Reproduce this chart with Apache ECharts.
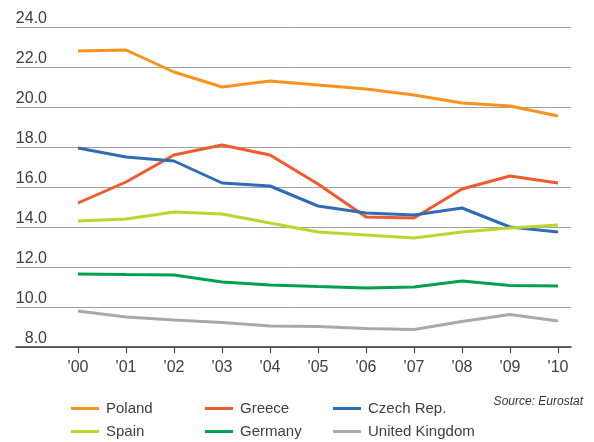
<!DOCTYPE html>
<html>
<head>
<meta charset="utf-8">
<script src="https://cdn.jsdelivr.net/npm/echarts@6/dist/echarts.min.js"></script>
<style>
  html, body { margin: 0; padding: 0; background: #ffffff; }
  #chart { width: 594px; height: 442px; }
</style>
</head>
<body>
<div id="chart"></div>
<script>
// Years on the horizontal axis
const years = ["'00", "'01", "'02", "'03", "'04", "'05", "'06", "'07", "'08", "'09", "'10"];

// Values per country, 2000–2010
const poland  = [22.8, 22.85, 21.75, 21.0, 21.3, 21.1, 20.9, 20.6, 20.2, 20.05, 19.55];
const greece  = [15.2, 16.25, 17.6, 18.1, 17.6, 16.15, 14.5, 14.45, 15.9, 16.55, 16.2];
const czech   = [17.95, 17.5, 17.3, 16.2, 16.05, 15.05, 14.7, 14.6, 14.95, 14.0, 13.75];
const spain   = [14.3, 14.4, 14.75, 14.65, 14.2, 13.75, 13.6, 13.45, 13.75, 13.95, 14.1];
const germany = [11.65, 11.62, 11.6, 11.25, 11.1, 11.02, 10.95, 11.0, 11.3, 11.08, 11.05];
const uk      = [9.8, 9.5, 9.35, 9.22, 9.05, 9.03, 8.92, 8.87, 9.27, 9.62, 9.3];

const yMin = 8, yMax = 24, yStep = 2;

const countries = [
  { name: 'Poland',         data: poland,  color: '#F7931E' },
  { name: 'Greece',         data: greece,  color: '#F15A2B' },
  { name: 'Czech Rep.',     data: czech,   color: '#2E6DB4' },
  { name: 'Spain',          data: spain,   color: '#BDD531' },
  { name: 'Germany',        data: germany, color: '#00A04F' },
  { name: 'United Kingdom', data: uk,      color: '#A8A9AD' }
];

const font = '"Liberation Sans", Arial, Helvetica, sans-serif';
const textColor = '#404040';

const chart = echarts.init(document.getElementById('chart'), null, { renderer: 'canvas' });

// one legend column per pair of countries
function legendColumn(left, names) {
  return {
    orient: 'vertical',
    left: left,
    top: 401,
    height: 40,
    padding: 0,
    itemWidth: 28,
    itemHeight: 3,
    itemGap: 8,
    icon: 'rect',
    selectedMode: false,
    textStyle: { fontFamily: font, fontSize: 15, color: textColor, padding: [0, 0, 0, 2] },
    data: names
  };
}

chart.setOption({
  animation: false,
  backgroundColor: '#ffffff',
  grid: [
    // wide grid: gridlines, value labels and the baseline
    { left: 16, right: 23, top: 27, bottom: 95 },
    // inner grid: the year axis and the lines
    { left: 78, right: 36, top: 27, bottom: 95 }
  ],
  xAxis: [
    {
      gridIndex: 0, type: 'value', min: 0, max: 1,
      axisLine: { show: true, lineStyle: { color: '#333333', width: 1.5 } },
      axisTick: { show: false }, axisLabel: { show: false }, splitLine: { show: false }
    },
    {
      gridIndex: 1, type: 'category', data: years, boundaryGap: false,
      axisLine: { show: false },
      axisTick: { show: true, length: 6, lineStyle: { color: '#333333', width: 1 } },
      axisLabel: { fontFamily: font, fontSize: 16, color: textColor, margin: 13 },
      splitLine: { show: false }
    }
  ],
  yAxis: [
    {
      gridIndex: 0, type: 'value', min: yMin, max: yMax, interval: yStep,
      offset: -31,
      axisLine: { show: false }, axisTick: { show: false },
      axisLabel: {
        margin: 0, align: 'right', verticalAlign: 'bottom',
        fontFamily: font, fontSize: 16, color: textColor,
        formatter: v => v.toFixed(1)
      },
      splitLine: { show: true, lineStyle: { color: '#a0a0a0', width: 1 } }
    },
    {
      gridIndex: 1, type: 'value', min: yMin, max: yMax, interval: yStep,
      show: false
    }
  ],
  legend: [
    legendColumn(71, ['Poland', 'Spain']),
    legendColumn(205, ['Greece', 'Germany']),
    legendColumn(333, ['Czech Rep.', 'United Kingdom'])
  ],
  graphic: [
    {
      type: 'text', x: 583, y: 402, silent: true,
      style: {
        text: 'Source: Eurostat', align: 'right', verticalAlign: 'middle',
        font: 'italic 12px ' + font, fill: '#333333'
      }
    }
  ],
  series: countries.map(c => ({
    name: c.name,
    type: 'line',
    xAxisIndex: 1,
    yAxisIndex: 1,
    data: c.data,
    showSymbol: false,
    symbol: 'none',
    color: c.color,
    lineStyle: { color: c.color, width: 3 },
    itemStyle: { color: c.color },
    emphasis: { disabled: true }
  }))
});
</script>
</body>
</html>
